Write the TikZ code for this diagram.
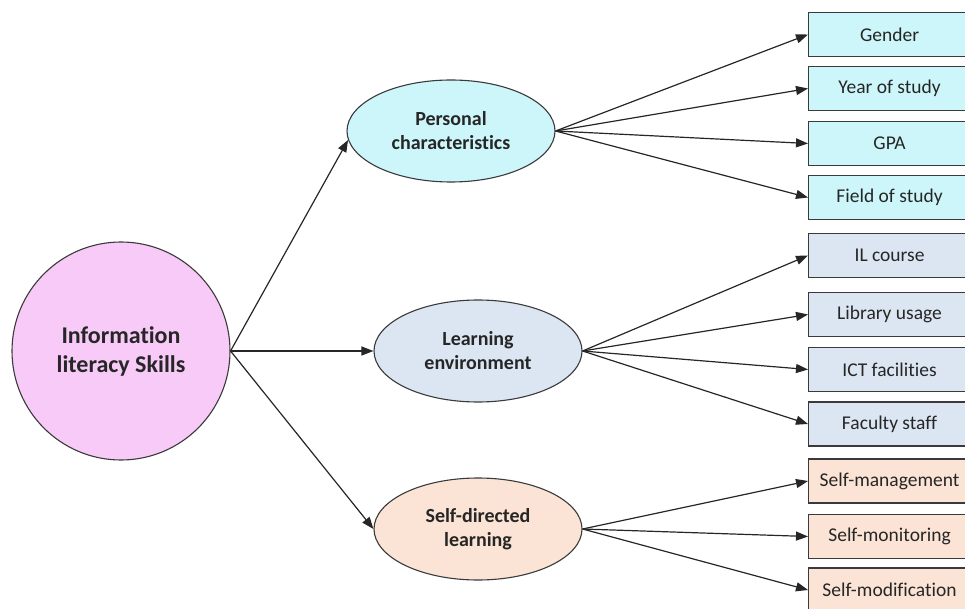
\documentclass[tikz,border=0pt]{standalone}
\usepackage{fontspec}
\setmainfont{Carlito}[Ligatures=NoCommon]
\usetikzlibrary{shapes.geometric,arrows.meta}

\definecolor{inkgray}{HTML}{262626}
\definecolor{edgegray}{HTML}{3A3A3A}
\definecolor{pinkfill}{HTML}{F8CAF8}
\definecolor{cyanfill}{HTML}{CDF6FA}
\definecolor{bluefill}{HTML}{DCE6F2}
\definecolor{peachfill}{HTML}{FBE4D5}

\tikzset{
  rootnode/.style={circle, draw=edgegray, line width=1.1pt, fill=pinkfill,
    minimum size=218pt, inner sep=0pt, align=center, text=inkgray,
    font=\fontsize{24}{29}\selectfont\bfseries},
  groupnode/.style={ellipse, draw=edgegray, line width=1.1pt,
    minimum width=208pt, minimum height=102pt, inner sep=0pt, align=center,
    text=inkgray, font=\fontsize{20}{24}\selectfont\bfseries},
  leafbox/.style={rectangle, draw=edgegray, line width=1.1pt,
    minimum width=162pt, minimum height=44pt, inner sep=0pt, anchor=west,
    text=inkgray, font=\fontsize{19.5}{23}\selectfont},
  link/.style={draw=black!85, line width=1.2pt,
    -{Triangle[length=12pt,width=9pt]}}
}

\begin{document}
\begin{tikzpicture}[x=1pt,y=-1pt]
\useasboundingbox (0,0) rectangle (965,609);
\clip (0,0) rectangle (965,609);

% root concept
\node[rootnode] (root) at (121,351) {Information\\literacy Skills};

% the three groups
\node[groupnode, fill=cyanfill]  (pers)  at (451,131) {Personal\\characteristics};
\node[groupnode, fill=bluefill]  (env)   at (478,351) {Learning\\environment};
\node[groupnode, fill=peachfill] (self)  at (478,529) {Self-directed\\learning};

% personal characteristics
\node[leafbox, fill=cyanfill] (gender) at (808,34.5)  {Gender};
\node[leafbox, fill=cyanfill] (year)   at (808,88.5)  {Year of study};
\node[leafbox, fill=cyanfill] (gpa)    at (808,143.5) {GPA};
\node[leafbox, fill=cyanfill] (field)  at (808,197.5) {Field of study};

% learning environment
\node[leafbox, fill=bluefill] (ilc)     at (808,255.5) {IL course};
\node[leafbox, fill=bluefill] (library) at (808,314.5) {Library usage};
\node[leafbox, fill=bluefill] (ict)     at (808,369.5) {ICT facilities};
\node[leafbox, fill=bluefill] (faculty) at (808,424)   {Faculty staff};

% self-directed learning
\node[leafbox, fill=peachfill] (smanage)  at (808,481)   {Self-management};
\node[leafbox, fill=peachfill] (smonitor) at (808,536.5) {Self-monitoring};
\node[leafbox, fill=peachfill] (smodify)  at (808,590)   {Self-modification};

% root to groups
\draw[link] (root.east) -- (pers.185);
\draw[link] (root.east) -- (env.west);
\draw[link] (root.east) -- (self.west);

% groups to leaves
\foreach \leaf in {gender,year,gpa,field}
  \draw[link] (pers.east) -- (\leaf.west);
\foreach \leaf in {ilc,library,ict,faculty}
  \draw[link] (env.east) -- (\leaf.west);
\foreach \leaf in {smanage,smonitor,smodify}
  \draw[link] (self.east) -- (\leaf.west);
\end{tikzpicture}
\end{document}
